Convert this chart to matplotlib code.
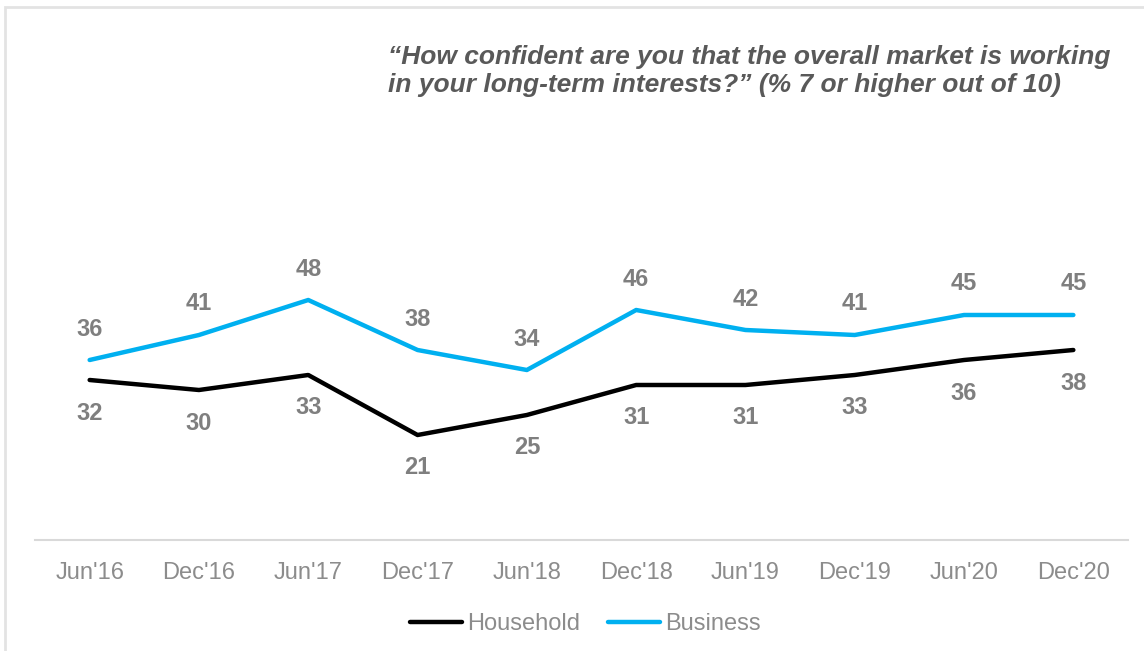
import matplotlib
matplotlib.use("Agg")
import matplotlib.pyplot as plt
from matplotlib.patches import Rectangle

periods = ["Jun'16", "Dec'16", "Jun'17", "Dec'17", "Jun'18",
           "Dec'18", "Jun'19", "Dec'19", "Jun'20", "Dec'20"]
household = [32, 30, 33, 21, 25, 31, 31, 33, 36, 38]
business = [36, 41, 48, 38, 34, 46, 42, 41, 45, 45]

title = ("\u201cHow confident are you that the overall market is working\n"
         "in your long-term interests?\u201d (% 7 or higher out of 10)")

plt.rcParams["font.family"] = ["Liberation Sans", "DejaVu Sans"]

W, H = 1144, 651
fig = plt.figure(figsize=(W / 100, H / 100), dpi=100)
fig.patch.set_facecolor("white")

# light frame around the panel
fig.patches.append(Rectangle((5 / W, -0.05), 1.2, 1 - 7 / H + 0.05,
                             transform=fig.transFigure, fill=False,
                             edgecolor="#e3e3e3", linewidth=2))

ax = fig.add_axes([35 / W, (H - 540) / H, 1093 / W, 300 / H])
x = list(range(len(periods)))

hh_color = "#000000"
bz_color = "#00B0F0"
lab_color = "#7f7f7f"

ax.plot(x, household, color=hh_color, lw=3.2, solid_joinstyle="round",
        solid_capstyle="round", label="Household")
ax.plot(x, business, color=bz_color, lw=3.2, solid_joinstyle="round",
        solid_capstyle="round", label="Business")

for xi, v in zip(x, business):
    ax.annotate(str(v), (xi, v), xytext=(0, 31), textcoords="offset pixels",
                ha="center", va="center", fontsize=17, fontweight="bold",
                color=lab_color)
for xi, v in zip(x, household):
    ax.annotate(str(v), (xi, v), xytext=(0, -33), textcoords="offset pixels",
                ha="center", va="center", fontsize=17, fontweight="bold",
                color=lab_color)

ax.set_xlim(-0.5, len(periods) - 0.5)
ax.set_ylim(0, 60)
ax.set_xticks(x)
ax.set_xticklabels(periods, fontsize=17, color="#8c8c8c")
ax.tick_params(axis="x", length=0, pad=15.5)
ax.set_yticks([])
for s in ["top", "right", "left"]:
    ax.spines[s].set_visible(False)
ax.spines["bottom"].set_color("#d9d9d9")
ax.spines["bottom"].set_linewidth(1.5)
ax.set_facecolor("none")

leg = ax.legend(loc="center", bbox_to_anchor=(0.5035, (540 - 624) / 300),
                ncol=2, frameon=False, fontsize=17, handlelength=2.2,
                handletextpad=0.2, columnspacing=1.2)
for t in leg.get_texts():
    t.set_color("#8c8c8c")
for ln in leg.get_lines():
    ln.set_linewidth(3.2)
    ln.set_solid_capstyle("round")

fig.text(388 / W, 1 - 71 / H, title, ha="left", va="center", fontsize=19,
         fontweight="bold", fontstyle="italic", color="#595959",
         linespacing=1.17)

fig.savefig("out.png", dpi=100, facecolor="white")
